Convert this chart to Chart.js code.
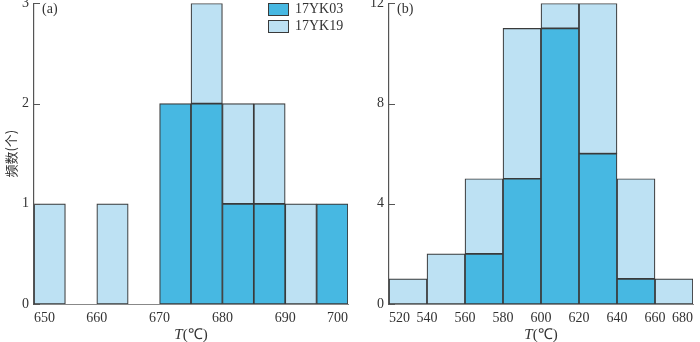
<!DOCTYPE html>
<html>
<head>
<meta charset="utf-8">
<script src="https://cdn.jsdelivr.net/npm/chart.js@4.4.1/dist/chart.umd.min.js"></script>
<style>
  body { margin: 0; width: 700px; height: 342px; background: #fff; position: relative; overflow: hidden; font-family: "Liberation Serif", serif; }
  .wrap { position: absolute; top: -10px; height: 352px; }
  #wrapA { left: 0; width: 354px; }
  #wrapB { left: 352px; width: 347px; }
  .legend { position: absolute; left: 268px; top: 1px; color: #333; font-size: 14px; }
  .legend .item { display: flex; align-items: center; height: 16px; margin-bottom: 1px; }
  .legend .box { width: 21px; height: 13px; border: 1.3px solid #3a3a3a; margin-right: 6px; box-sizing: border-box; }
</style>
</head>
<body>
<div class="wrap" id="wrapA"><canvas id="chartA"></canvas></div>
<div class="wrap" id="wrapB"><canvas id="chartB"></canvas></div>
<div class="legend" id="legend"></div>

<script>
// ── data ──────────────────────────────────────
// panel (a): 5 ℃ bins, centres
const binsA = [652.5, 657.5, 662.5, 667.5, 672.5, 677.5, 682.5, 687.5, 692.5, 697.5];
const yk03A = [0, 0, 0, 0, 2, 2, 1, 1, 0, 1];
const yk19A = [1, 0, 1, 0, 0, 1, 1, 1, 1, 0];   // stacked on top of 17YK03
const ticksA = [650, 660, 670, 680, 690, 700];

// panel (b): 20 ℃ bins, centres
const binsB = [530, 550, 570, 590, 610, 630, 650, 670];
const yk03B = [0, 0, 2, 5, 11, 6, 1, 0];
const yk19B = [1, 2, 3, 6, 1, 6, 4, 1];
const ticksB = [520, 540, 560, 580, 600, 620, 640, 660, 680];

const seriesNames = ['17YK03', '17YK19'];
const yTitle = '频数(个)';
const xTitle = ['T', '(℃)'];

// ── style ─────────────────────────────────────
const DARK = '#47b8e2';
const LIGHT = '#bde1f3';
const EDGE = '#3a3a3a';
const AXIS = '#555';
const TEXT = '#333';
const SERIF = '"Liberation Serif", "Times New Roman", serif';

/** inward y ticks, panel letter and the mixed italic x title */
const decor = {
  id: 'decor',
  afterDraw(chart, args, opts) {
    const { ctx, chartArea } = chart;
    const y = chart.scales.y;
    ctx.save();
    ctx.strokeStyle = AXIS;
    ctx.lineWidth = 1;
    y.ticks.forEach((t) => {
      const py = Math.round(y.getPixelForValue(t.value)) + 0.5;
      ctx.beginPath();
      ctx.moveTo(chartArea.left, py);
      ctx.lineTo(chartArea.left + 6, py);
      ctx.stroke();
    });

    ctx.fillStyle = TEXT;
    ctx.font = '14px ' + SERIF;
    ctx.textBaseline = 'middle';
    ctx.textAlign = 'left';
    ctx.fillText(opts.panel, chartArea.left + 8, chartArea.top + 6);

    // x title: italic T + (℃)
    const italic = 'italic 15px ' + SERIF;
    const normal = '15px ' + SERIF;
    ctx.font = italic;
    const w1 = ctx.measureText(xTitle[0]).width;
    ctx.font = normal;
    const w2 = ctx.measureText(xTitle[1]).width;
    const cx = (chartArea.left + chartArea.right) / 2;
    const x0 = cx - (w1 + w2) / 2;
    const ty = chart.height - 7;
    ctx.font = italic;
    ctx.fillText(xTitle[0], x0, ty);
    ctx.font = normal;
    ctx.fillText(xTitle[1], x0 + w1, ty);
    ctx.restore();
  },
};

function dataset(label, bins, values, color) {
  return {
    label,
    data: bins.map((x, i) => ({ x, y: values[i] })),
    backgroundColor: color,
    borderColor: EDGE,
    borderWidth: 1.2,
    borderSkipped: false,
    barPercentage: 1,
    categoryPercentage: 1,
  };
}

function makeChart(canvas, cfg) {
  return new Chart(canvas, {
    type: 'bar',
    data: {
      datasets: [
        dataset(seriesNames[0], cfg.bins, cfg.a, DARK),
        dataset(seriesNames[1], cfg.bins, cfg.b, LIGHT),
      ],
    },
    options: {
      responsive: true,
      maintainAspectRatio: false,
      animation: false,
      layout: { padding: 0 },
      scales: {
        x: {
          type: 'linear',
          stacked: true,
          offset: false,
          min: cfg.ticks[0],
          max: cfg.ticks[cfg.ticks.length - 1],
          afterBuildTicks: (s) => { s.ticks = cfg.ticks.map((v) => ({ value: v })); },
          afterFit: (s) => { s.height = 38; },
          grid: { display: false, drawTicks: false },
          border: { display: true, color: '#888', width: 1 },
          ticks: { color: TEXT, font: { family: SERIF, size: 14 }, padding: 6, maxRotation: 0, autoSkip: false, align: 'inner' },
        },
        y: {
          stacked: true,
          min: 0,
          max: cfg.yMax,
          afterFit: (s) => { s.width = cfg.yWidth; },
          grid: { display: false, drawTicks: false },
          border: { display: true, color: AXIS, width: 1.2 },
          ticks: { stepSize: cfg.yStep, color: TEXT, font: { family: SERIF, size: 14 }, padding: 5 },
          title: {
            display: cfg.showTitle,
            text: yTitle,
            color: TEXT,
            font: { family: '"Noto Sans CJK SC", sans-serif', size: 13 },
            padding: { top: 3, bottom: 0 },
          },
        },
      },
      plugins: {
        legend: { display: false },
        tooltip: { enabled: false },
        decor: { panel: cfg.panel },
      },
    },
    plugins: [decor],
  });
}

makeChart(document.getElementById('chartA'), {
  bins: binsA, a: yk03A, b: yk19A, ticks: ticksA,
  yMax: 3, yStep: 1, yWidth: 34, showTitle: true, panel: '(a)',
});

makeChart(document.getElementById('chartB'), {
  bins: binsB, a: yk03B, b: yk19B, ticks: ticksB,
  yMax: 12, yStep: 4, yWidth: 37, showTitle: false, panel: '(b)',
});

// HTML legend for panel (a)
const legend = document.getElementById('legend');
[DARK, LIGHT].forEach((c, i) => {
  const item = document.createElement('div');
  item.className = 'item';
  const box = document.createElement('span');
  box.className = 'box';
  box.style.background = c;
  item.appendChild(box);
  item.appendChild(document.createTextNode(seriesNames[i]));
  legend.appendChild(item);
});
</script>
</body>
</html>
